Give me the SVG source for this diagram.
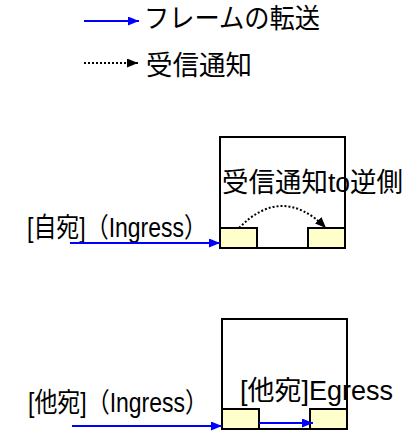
<svg xmlns="http://www.w3.org/2000/svg" width="410" height="432" viewBox="0 0 410 432">
<style>
text{font-family:"Liberation Sans","Noto Sans CJK JP",sans-serif;font-size:27px;fill:#000}
.box{fill:#fff;stroke:#000;stroke-width:2}
.port{fill:#ffffcc;stroke:#000;stroke-width:2}
.fwd{fill:none;stroke:#0000ff;stroke-width:2}
.ntf{fill:none;stroke:#000;stroke-width:2;stroke-dasharray:2 2}
</style>
<defs>
<marker id="ab" viewBox="0 0 11 9" refX="11" refY="4.5" markerWidth="11" markerHeight="9" markerUnits="userSpaceOnUse" orient="auto"><path d="M0,0L11,4.5L0,9z" fill="#0000ff"/></marker>
<marker id="ak" viewBox="0 0 11 9" refX="11" refY="4.5" markerWidth="11" markerHeight="9" markerUnits="userSpaceOnUse" orient="auto"><path d="M0,0L11,4.5L0,9z" fill="#000"/></marker>
</defs>
<g id="legend">
<text x="144" y="28" textLength="176" lengthAdjust="spacingAndGlyphs">フレームの転送</text>
<text x="146" y="75" textLength="106" lengthAdjust="spacingAndGlyphs">受信通知</text>
</g>
<g id="node1">
<rect class="box" x="220" y="137" width="125" height="111"/>
<rect class="port" x="220" y="228" width="37" height="20"/>
<rect class="port" x="308" y="228" width="37" height="20"/>
<text x="222" y="192" textLength="181" lengthAdjust="spacingAndGlyphs">受信通知to逆側</text>
<text x="27" y="237" textLength="180" lengthAdjust="spacingAndGlyphs">[自宛]（Ingress）</text>
</g>
<g id="node2">
<rect class="box" x="222" y="319" width="125" height="110"/>
<rect class="port" x="222" y="409" width="37" height="20"/>
<rect class="port" x="310" y="409" width="37" height="20"/>
<text x="240" y="400" textLength="153" lengthAdjust="spacingAndGlyphs">[他宛]Egress</text>
<text x="28" y="412" textLength="180" lengthAdjust="spacingAndGlyphs">[他宛]（Ingress）</text>
</g>
<g id="connectors">
<line class="fwd" x1="84" y1="21" x2="139" y2="21" marker-end="url(#ab)"/>
<line class="ntf" x1="84" y1="63" x2="138" y2="63" marker-end="url(#ak)"/>
<line class="fwd" x1="70" y1="243" x2="220" y2="243" marker-end="url(#ab)"/>
<path class="ntf" d="M239,228 Q282,184 326,228" marker-end="url(#ak)"/>
<line class="fwd" x1="72" y1="426" x2="222" y2="426" marker-end="url(#ab)"/>
<line class="fwd" x1="259" y1="423" x2="313" y2="423" marker-end="url(#ab)"/>
</g>
</svg>
